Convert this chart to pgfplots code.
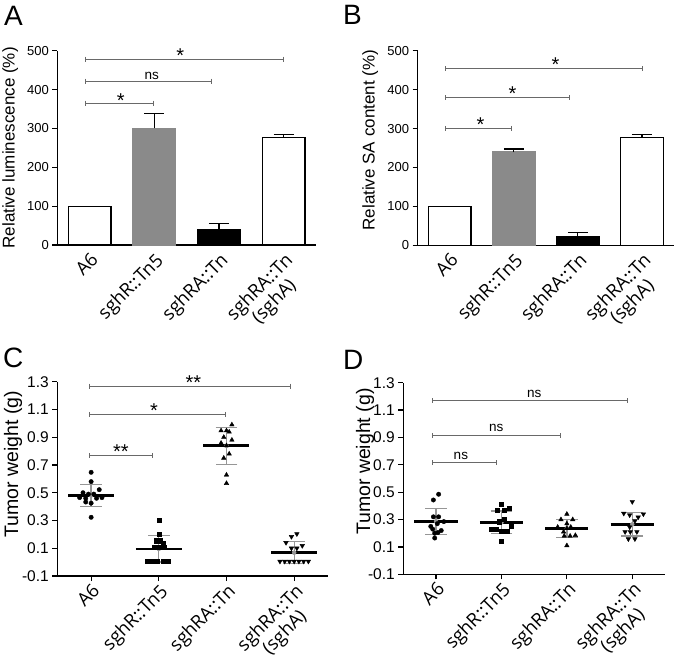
\documentclass[border=0pt]{standalone}
\usepackage{fontspec}
\setmainfont{Liberation Sans}
\newfontfamily\catfont{Open Sans}
\usepackage{pgfplots}
\pgfplotsset{compat=1.18}
\definecolor{bargray}{RGB}{138,138,138}
\definecolor{sig}{RGB}{105,105,105}
\definecolor{sdgray}{RGB}{150,150,150}

\tikzset{
  sigstar/.style={font=\fontsize{20}{20}\selectfont, inner sep=0pt},
  nstext/.style={font=\fontsize{13.5}{13.5}\selectfont, inner sep=0pt},
}
\pgfplotsset{
  panel/.style={scale only axis, axis lines*=left, clip=false,
    xmin=-0.5, xmax=3.5, xtick={0,1,2,3},
    xticklabels={A6, sghR::Tn5, sghRA::Tn, {sghRA::Tn\\(sghA)}},
    xticklabel style={font=\catfont\fontsize{18.5}{20}\selectfont, rotate=45, anchor=north east, align=center, inner sep=1pt},
    tick align=outside, axis line style={line width=1.2pt, black},
    major tick length=5pt,
    ytick style={line width=1.2pt, black},
    /pgf/number format/assume math mode=true,
  },
  barpanel/.style={panel, ymin=0, ymax=500, ytick={0,100,...,500},
    xtick style={draw=none},
    yticklabel style={font=\fontsize{13}{13}\selectfont},
    ylabel style={font=\fontsize{17}{17}\selectfont, anchor=center},
  },
  dotpanel/.style={panel, ymin=-0.1, ymax=1.3, ytick={-0.1,0.1,0.3,0.5,0.7,0.9,1.1,1.3},
    yticklabels={-0.1,0.1,0.3,0.5,0.7,0.9,1.1,1.3},
    xtick style={line width=1.2pt, black},
    yticklabel style={font=\fontsize{15.5}{15.5}\selectfont},
    ylabel style={font=\fontsize{19.5}{19.5}\selectfont, anchor=center},
  },
  sigline/.style={sig, line width=0.9pt, mark=|, mark size=2.5pt, mark options={line width=0.9pt, solid}},
  errb/.style={error bars/.cd, y dir=plus, y explicit,
    error bar style={black, line width=1.2pt},
    error mark options={black, rotate=90, mark size=10pt, line width=1.2pt}},
  sdb/.style={sdgray, only marks, mark=none, error bars/.cd, y dir=both, y explicit,
    error bar style={sdgray, line width=1.3pt},
    error mark options={sdgray, rotate=90, mark size=10.8pt, line width=1.3pt}},
  meanl/.style={black, line width=2.8pt},
}

\begin{document}
\begin{tikzpicture}
\path[use as bounding box] (0,0) rectangle (678pt,-661pt);

\node[anchor=north west, inner sep=0pt, font=\fontsize{28}{28}\selectfont] at (4pt,-6pt) {A};
\node[anchor=north west, inner sep=0pt, font=\fontsize{28}{28}\selectfont] at (343pt,-5.5pt) {B};
\node[anchor=north west, inner sep=0pt, font=\fontsize{28}{28}\selectfont] at (3pt,-348pt) {C};
\node[anchor=north west, inner sep=0pt, font=\fontsize{28}{28}\selectfont] at (343pt,-350pt) {D};

% ---------------- Panel A
\begin{axis}[barpanel, at={(57.3pt,-245pt)}, anchor=south west, width=258.7pt, height=194.3pt,
  ylabel={Relative luminescence (\%)},
  ylabel style={at={(axis description cs:-0.182,0.5)}}]
\addplot[ybar, bar shift=0pt, bar width=42.7pt, fill=white, draw=black, line width=1.2pt, errb]
  coordinates {(0,100) +- (0,0) (3,276) +- (0,9)};
\addplot[ybar, bar shift=0pt, bar width=42.7pt, fill=bargray, draw=bargray, line width=1.2pt, errb]
  coordinates {(1,300) +- (0,38)};
\addplot[ybar, bar shift=0pt, bar width=42.7pt, fill=black, draw=black, line width=1.2pt, errb]
  coordinates {(2,40) +- (0,16)};
\addplot[sigline] coordinates {(-0.06,478.6) (3.0,478.6)};
\addplot[sigline] coordinates {(-0.06,422) (1.88,422)};
\addplot[sigline] coordinates {(-0.06,365) (0.98,365)};
\node[sigstar] at (axis cs:1.40,488) {*};
\node[nstext] at (axis cs:0.96,435) {ns};
\node[sigstar] at (axis cs:0.48,371) {*};
\end{axis}

% ---------------- Panel B
\begin{axis}[barpanel, at={(417.7pt,-245.3pt)}, anchor=south west, width=256.3pt, height=194.6pt,
  ylabel={Relative SA content (\%)},
  ylabel style={at={(axis description cs:-0.185,0.54)}}]
\addplot[ybar, bar shift=0pt, bar width=42.7pt, fill=white, draw=black, line width=1.2pt, errb]
  coordinates {(0,100) +- (0,0) (3,276) +- (0,8.5)};
\addplot[ybar, bar shift=0pt, bar width=42.7pt, fill=bargray, draw=bargray, line width=1.2pt, errb]
  coordinates {(1,239.5) +- (0,8)};
\addplot[ybar, bar shift=0pt, bar width=42.7pt, fill=black, draw=black, line width=1.2pt, errb]
  coordinates {(2,22) +- (0,10)};
\addplot[sigline] coordinates {(-0.07,453.7) (3.01,453.7)};
\addplot[sigline] coordinates {(-0.07,379) (1.87,379)};
\addplot[sigline] coordinates {(-0.07,300.5) (0.97,300.5)};
\node[sigstar] at (axis cs:1.65,464) {*};
\node[sigstar] at (axis cs:0.98,390) {*};
\node[sigstar] at (axis cs:0.48,309) {*};
\end{axis}

% ---------------- Panel C
\begin{axis}[dotpanel, at={(57.3pt,-576pt)}, anchor=south west, width=270.7pt, height=194.3pt,
  ylabel={Tumor weight (g)},
  ylabel style={at={(axis description cs:-0.163,0.576)}}]
\addplot[sdb] coordinates {(0,0.48) +- (0,0.08) (1,0.095) +- (0,0.095) (2,0.838) +- (0,0.133) (3,0.068) +- (0,0.08)};
\addplot[meanl] coordinates {(-0.34,0.48) (0.34,0.48)};
\addplot[meanl] coordinates {(0.66,0.095) (1.34,0.095)};
\addplot[meanl] coordinates {(1.66,0.838) (2.34,0.838)};
\addplot[meanl] coordinates {(2.66,0.068) (3.34,0.068)};
\addplot[only marks, mark=*, mark size=2.2pt, black] table[row sep=\\] {
x y\\ 0 0.647\\ 0 0.58\\ 0.12 0.522\\ -0.12 0.50\\ -0.04 0.49\\ 0.04 0.49\\
-0.17 0.465\\ -0.08 0.46\\ 0.08 0.46\\ 0.16 0.465\\ -0.08 0.433\\ 0 0.425\\ 0 0.323\\};
\addplot[only marks, mark=square*, mark size=2.1pt, black] table[row sep=\\] {
x y\\ 1 0.30\\ 1 0.20\\ 0.96 0.155\\ 1.02 0.155\\ 1.06 0.135\\ 0.93 0.105\\ 1.01 0.105\\ 1.08 0.11\\
0.83 0.005\\ 0.90 0.005\\ 0.98 0.005\\ 1.06 0.005\\ 1.14 0.005\\};
\addplot[only marks, mark=triangle*, mark size=2.6pt, black] table[row sep=\\] {
x y\\ 2.08 0.99\\ 1.92 0.947\\ 2.0 0.947\\ 2.04 0.938\\ 1.96 0.90\\ 2.08 0.88\\ 1.92 0.858\\
2.0 0.84\\ 2.04 0.78\\ 1.96 0.75\\ 2.0 0.628\\ 2.0 0.568\\};
\addplot[only marks, mark=triangle*, mark size=2.6pt, mark options={rotate=180}, black] table[row sep=\\] {
x y\\ 3.04 0.203\\ 2.96 0.183\\ 2.88 0.14\\ 2.96 0.10\\ 3.04 0.10\\ 3.12 0.118\\
2.79 0.005\\ 2.86 0.005\\ 2.93 0.005\\ 3.0 0.005\\ 3.07 0.005\\ 3.14 0.005\\ 3.21 0.005\\};
\addplot[sigline] coordinates {(-0.02,1.269) (2.94,1.269)};
\addplot[sigline] coordinates {(-0.02,1.065) (1.98,1.065)};
\addplot[sigline] coordinates {(-0.02,0.767) (0.91,0.767)};
\node[sigstar] at (axis cs:1.51,1.295) {**};
\node[sigstar] at (axis cs:0.93,1.095) {*};
\node[sigstar] at (axis cs:0.44,0.795) {**};
\end{axis}

% ---------------- Panel D
\begin{axis}[dotpanel, at={(403.3pt,-574.3pt)}, anchor=south west, width=261.7pt, height=191.6pt,
  ylabel={Tumor weight (g)},
  ylabel style={at={(axis description cs:-0.146,0.588)}}]
\addplot[sdb] coordinates {(0,0.288) +- (0,0.095) (1,0.28) +- (0,0.082) (2,0.236) +- (0,0.065) (3,0.265) +- (0,0.085)};
\addplot[meanl] coordinates {(-0.33,0.288) (0.33,0.288)};
\addplot[meanl] coordinates {(0.67,0.28) (1.33,0.28)};
\addplot[meanl] coordinates {(1.67,0.236) (2.33,0.236)};
\addplot[meanl] coordinates {(2.67,0.265) (3.33,0.265)};
\addplot[only marks, mark=*, mark size=2.2pt, black] table[row sep=\\] {
x y\\ 0.04 0.485\\ -0.04 0.443\\ -0.04 0.32\\ 0.04 0.32\\ 0.12 0.285\\ 0.02 0.27\\
-0.08 0.25\\ -0.05 0.23\\ 0.08 0.22\\ 0.03 0.205\\ -0.02 0.20\\ -0.02 0.165\\};
\addplot[only marks, mark=square*, mark size=2.1pt, black] table[row sep=\\] {
x y\\ 1 0.414\\ 0.94 0.37\\ 1.04 0.37\\ 1.12 0.385\\ 1.04 0.30\\ 0.96 0.285\\ 1.15 0.255\\
0.84 0.23\\ 0.92 0.23\\ 1.0 0.215\\ 1.08 0.215\\ 1.0 0.144\\};
\addplot[only marks, mark=triangle*, mark size=2.6pt, black] table[row sep=\\] {
x y\\ 2 0.34\\ 1.91 0.30\\ 2.09 0.30\\ 2 0.27\\ 1.86 0.245\\ 2.06 0.245\\ 2 0.235\\
1.95 0.21\\ 1.96 0.18\\ 2.05 0.18\\ 2.13 0.185\\ 2 0.11\\};
\addplot[only marks, mark=triangle*, mark size=2.6pt, mark options={rotate=180}, black] table[row sep=\\] {
x y\\ 3 0.43\\ 2.87 0.345\\ 2.96 0.333\\ 3.09 0.317\\ 3.17 0.34\\ 3.04 0.29\\ 2.96 0.245\\
2.89 0.21\\ 2.97 0.21\\ 3.07 0.21\\ 2.94 0.158\\ 3.04 0.158\\};
\addplot[sigline] coordinates {(-0.06,1.168) (2.92,1.168)};
\addplot[sigline] coordinates {(-0.06,0.911) (1.9,0.911)};
\addplot[sigline] coordinates {(-0.06,0.716) (0.92,0.716)};
\node[nstext] at (axis cs:1.5,1.22) {ns};
\node[nstext] at (axis cs:0.92,0.967) {ns};
\node[nstext] at (axis cs:0.38,0.765) {ns};
\end{axis}
\end{tikzpicture}
\end{document}
